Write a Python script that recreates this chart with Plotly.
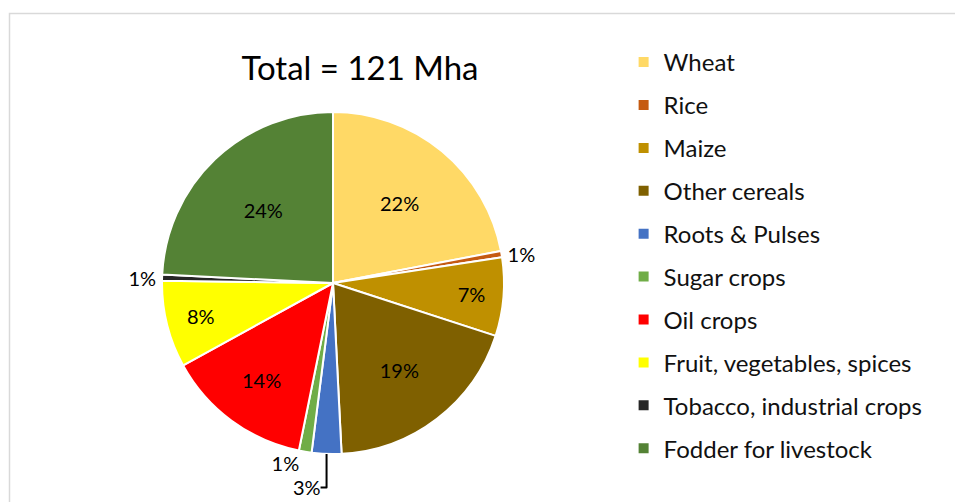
import plotly.graph_objects as go

categories = ["Wheat", "Rice", "Maize", "Other cereals", "Roots & Pulses",
              "Sugar crops", "Oil crops", "Fruit, vegetables, spices",
              "Tobacco, industrial crops", "Fodder for livestock"]
shares = [22.0, 0.6, 7.4, 19.2, 2.8, 1.2, 13.8, 8.2, 0.6, 24.2]
colors = ["#FFD966", "#C55A11", "#BF9000", "#7F6000", "#4472C4",
          "#70AD47", "#FF0000", "#FFFF00", "#262626", "#548235"]
text_pos = ["inside", "outside", "inside", "inside", "outside",
            "outside", "inside", "inside", "outside", "inside"]
title_text = "Total = 121 Mha"

FONT = "Lato, Calibri, Carlito, sans-serif"
W, H = 955, 502

fig = go.Figure()
fig.add_trace(go.Pie(
    labels=categories, values=shares, sort=False, direction="clockwise",
    rotation=0,
    marker=dict(colors=colors, line=dict(color="white", width=2)),
    texttemplate="%{percent:.0%}", textposition=text_pos,
    insidetextorientation="horizontal",
    textfont=dict(family=FONT, size=20, color="black"),
    showlegend=False,
    domain=dict(x=[162 / W, 504 / W], y=[1 - 454 / H, 1 - 112 / H]),
))

for i, (c, col) in enumerate(zip(categories, colors)):
    fig.add_trace(go.Scatter(
        x=[None], y=[None], mode="markers", name=c,
        marker=dict(symbol="square", size=10, color=col),
        legendgroup=f"g{i}", showlegend=True,
    ))

fig.update_layout(
    width=W, height=H,
    margin=dict(l=0, r=0, t=0, b=0, autoexpand=False),
    paper_bgcolor="white", plot_bgcolor="white",
    title=dict(text=title_text, x=360 / W, xanchor="center",
               y=1 - 68 / H, yanchor="middle",
               font=dict(family=FONT, size=33, color="black")),
    legend=dict(x=0.653, y=1 - 40 / H, xanchor="left", yanchor="top",
                font=dict(family=FONT, size=24, color="#111111"),
                traceorder="grouped", tracegroupgap=8.7,
                itemsizing="trace", bgcolor="rgba(0,0,0,0)"),
    xaxis=dict(visible=False), yaxis=dict(visible=False),
    shapes=[dict(type="rect", xref="paper", yref="paper",
                 x0=9.5 / W, x1=1.01, y0=-0.02, y1=1 - 13.5 / H,
                 line=dict(color="#d9d9d9", width=1.5))],
)

fig.write_html("out.html", config={"displayModeBar": False},
               post_script="document.body.style.margin='0';document.body.style.overflow='hidden';")
